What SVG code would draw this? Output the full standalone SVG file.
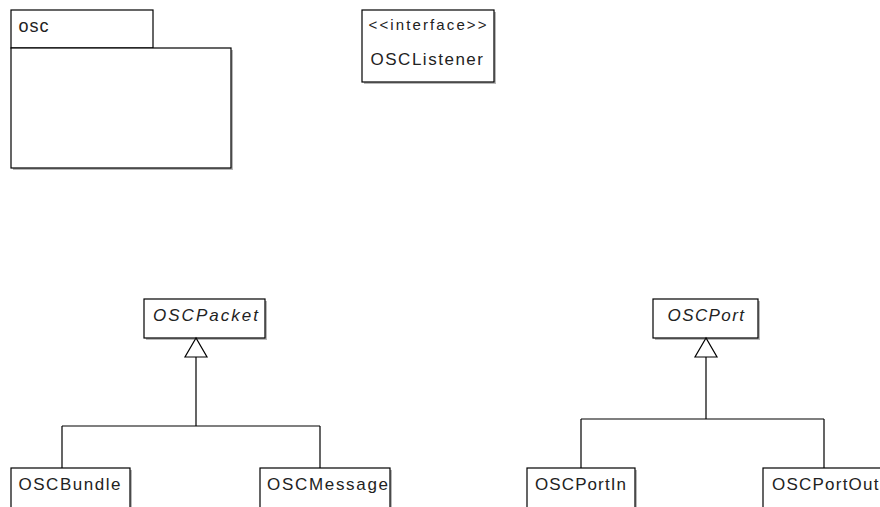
<svg xmlns="http://www.w3.org/2000/svg" width="880" height="507" viewBox="0 0 880 507">
<style>
.box{fill:#fff;stroke:#000;stroke-width:1.2}
.sh{fill:#b8b8b8}
.t{font-family:"Liberation Sans",Arial,sans-serif;font-size:17px;fill:#222}
.i{font-style:italic}
.ln{fill:none;stroke:#000;stroke-width:1.2}
.tri{fill:#fff;stroke:#000;stroke-width:1.2}
</style>
<rect width="880" height="507" fill="#fff"/>
<g id="pkg-osc">
<rect class="sh" x="13" y="50" width="220" height="120"/>
<rect class="box" x="11" y="10" width="142" height="38"/>
<rect class="box" x="11" y="48" width="220" height="120"/>
<text class="t" x="18.5" y="32" textLength="30" lengthAdjust="spacing" style="font-size:18px">osc</text>
</g>
<g id="OSCListener">
<rect class="sh" x="364" y="12" width="132" height="72"/>
<rect class="box" x="362" y="10" width="132" height="72"/>
<text class="t" x="368.5" y="30" textLength="118" lengthAdjust="spacing" style="font-size:15px">&lt;&lt;interface&gt;&gt;</text>
<text class="t" x="370.5" y="65" textLength="112.5" lengthAdjust="spacing">OSCListener</text>
</g>
<g id="OSCPacket">
<rect class="sh" x="146" y="301" width="121" height="39"/>
<rect class="box" x="144" y="299" width="121" height="39"/>
<text class="t i" x="153" y="321" textLength="105" lengthAdjust="spacing">OSCPacket</text>
</g>
<g id="OSCPort">
<rect class="sh" x="655" y="301" width="105" height="39"/>
<rect class="box" x="653" y="299" width="105" height="39"/>
<text class="t i" x="667.5" y="321" textLength="76.5" lengthAdjust="spacing">OSCPort</text>
</g>
<g id="connectors">
<path class="ln" d="M196,357 V426 M62,426 H320 M62,426 V468 M320,426 V468"/>
<polygon class="tri" points="196,338 185,357 207,357"/>
<path class="ln" d="M706,357 V419 M581,419 H824 M581,419 V468 M824,419 V468"/>
<polygon class="tri" points="706,338 695,357 717,357"/>
</g>
<g id="OSCBundle">
<rect class="sh" x="13" y="470" width="119" height="45"/>
<rect class="box" x="11" y="468" width="119" height="45"/>
<text class="t" x="18.5" y="490" textLength="102" lengthAdjust="spacing">OSCBundle</text>
</g>
<g id="OSCMessage">
<rect class="sh" x="262" y="470" width="130" height="45"/>
<rect class="box" x="260" y="468" width="130" height="45"/>
<text class="t" x="267" y="490" textLength="121" lengthAdjust="spacing">OSCMessage</text>
</g>
<g id="OSCPortIn">
<rect class="sh" x="529" y="470" width="108" height="45"/>
<rect class="box" x="527" y="468" width="108" height="45"/>
<text class="t" x="535" y="490" textLength="91" lengthAdjust="spacing">OSCPortIn</text>
</g>
<g id="OSCPortOut">
<rect class="sh" x="765" y="470" width="130" height="45"/>
<rect class="box" x="763" y="468" width="130" height="45"/>
<text class="t" x="772" y="490" textLength="106.5" lengthAdjust="spacing">OSCPortOut</text>
</g>
</svg>
